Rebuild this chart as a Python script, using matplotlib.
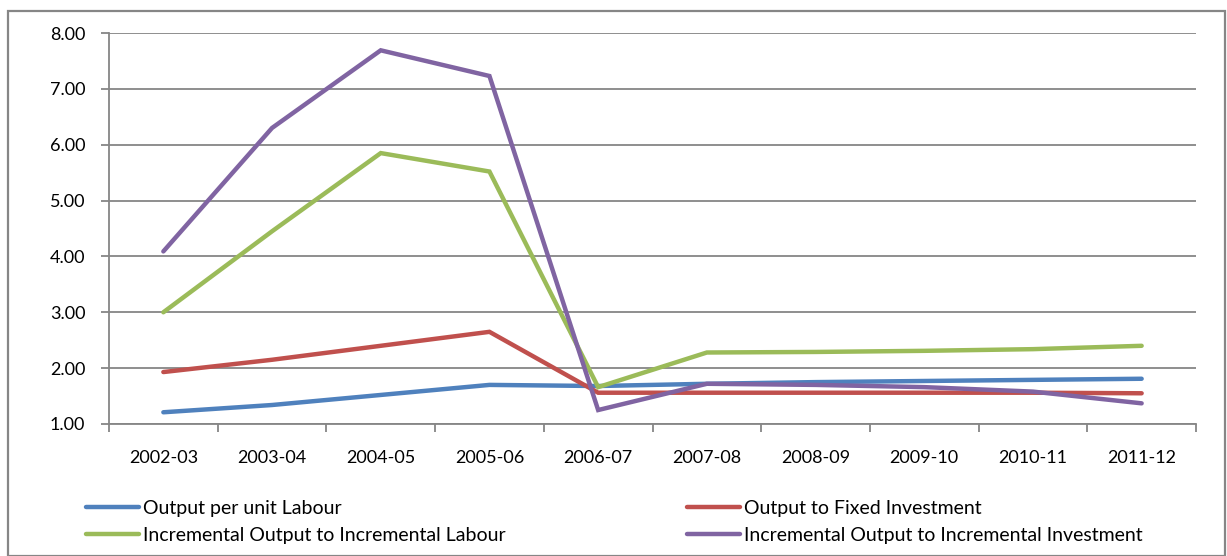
import matplotlib
matplotlib.use("Agg")
import matplotlib.pyplot as plt
from matplotlib.patches import Rectangle

years = ["2002-03", "2003-04", "2004-05", "2005-06", "2006-07",
         "2007-08", "2008-09", "2009-10", "2010-11", "2011-12"]
output_per_labour = [1.21, 1.34, 1.52, 1.70, 1.68, 1.72, 1.75, 1.77, 1.79, 1.81]
output_fixed_inv = [1.93, 2.15, 2.40, 2.65, 1.56, 1.56, 1.56, 1.56, 1.56, 1.55]
incr_out_labour = [3.00, 4.45, 5.85, 5.52, 1.66, 2.28, 2.29, 2.31, 2.34, 2.40]
incr_out_inv = [4.09, 6.30, 7.69, 7.23, 1.25, 1.72, 1.70, 1.66, 1.58, 1.37]

series_names = ["Output per unit Labour", "Output to Fixed Investment",
                "Incremental Output to Incremental Labour",
                "Incremental Output to Incremental Investment"]
colors = ["#4F81BD", "#C0504D", "#9BBB59", "#8064A2"]
yticks = [1, 2, 3, 4, 5, 6, 7, 8]

plt.rcParams['font.family'] = ['Lato', 'DejaVu Sans']

W, H = 1227, 556
fig = plt.figure(figsize=(W / 100, H / 100), dpi=100)
ax = fig.add_axes([109 / W, 1 - 424 / H, (1196 - 109) / W, (424 - 33) / H])

x = list(range(len(years)))
lines = []
for vals, c, name in zip([output_per_labour, output_fixed_inv, incr_out_labour, incr_out_inv],
                         colors, series_names):
    ln, = ax.plot(x, vals, color=c, lw=3.2, solid_capstyle='round',
                  solid_joinstyle='miter', label=name, zorder=3)
    lines.append(ln)

ax.set_xlim(-0.5, len(years) - 0.5)
ax.set_ylim(1, 8)
ax.set_yticks(yticks)
ax.set_yticklabels([f"{v:.2f}" for v in yticks])
ax.yaxis.grid(True, color="#868686", lw=1.3)
ax.set_axisbelow(True)

# category ticks at boundaries, labels centered
ax.set_xticks([i - 0.5 for i in range(len(years) + 1)])
ax.set_xticklabels([])
ax.set_xticks(x, minor=True)
ax.set_xticklabels(years, minor=True)
ax.tick_params(axis='x', which='major', length=6, width=1.3, color="#868686", direction='out')
ax.tick_params(axis='x', which='minor', length=0, pad=19, labelsize=13)
ax.tick_params(axis='y', length=6, width=1.3, color="#868686", pad=11, labelsize=13)

for s in ['top', 'right']:
    ax.spines[s].set_visible(False)
for s in ['left', 'bottom']:
    ax.spines[s].set_color("#868686")
    ax.spines[s].set_linewidth(1.3)

# legend: column-wise fill -> col1: blue, green ; col2: red, purple
handles = [lines[0], lines[2], lines[1], lines[3]]
leg = fig.legend(handles=handles, loc='upper left', bbox_to_anchor=(86 / W, 1 - 500 / H),
                 ncol=2, frameon=False, fontsize=14, handlelength=2.75,
                 handletextpad=0.2, columnspacing=9.3, labelspacing=0.5,
                 borderaxespad=0, borderpad=0)

# outer chart border
fig.patches.append(Rectangle((8 / W, 0), (1225 - 8) / W, 1 - 11 / H,
                             transform=fig.transFigure, fill=False,
                             edgecolor="#868686", lw=1.6, zorder=10))

fig.savefig("out.png", dpi=100)
